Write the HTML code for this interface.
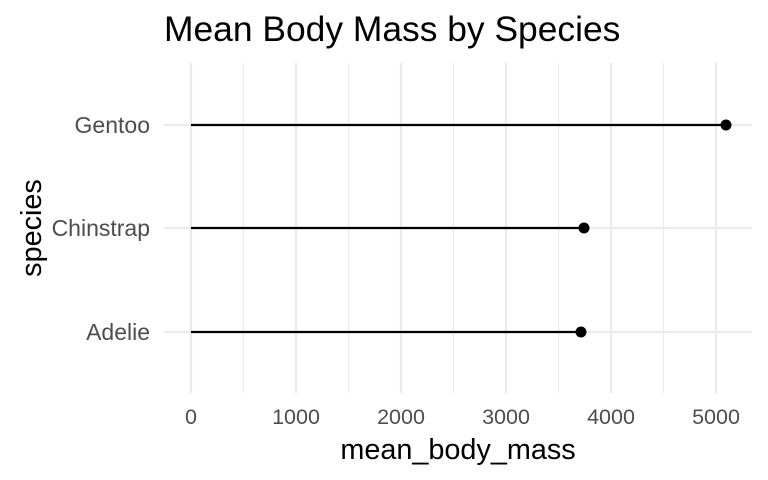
<!DOCTYPE html>
<html><head><style>body{margin:0;background:#fff}svg{display:block}</style></head><body>
<svg width="768" height="480" xmlns="http://www.w3.org/2000/svg" font-family="Liberation Sans, sans-serif">
<rect width="768" height="480" fill="#fff"/>
<g stroke="#ebebeb" stroke-width="1.1">
<line x1="243.5" y1="63" x2="243.5" y2="393"/><line x1="348.5" y1="63" x2="348.5" y2="393"/><line x1="453.5" y1="63" x2="453.5" y2="393"/><line x1="558.5" y1="63" x2="558.5" y2="393"/><line x1="663.5" y1="63" x2="663.5" y2="393"/>
</g>
<g stroke="#ebebeb" stroke-width="2.2">
<line x1="191" y1="63" x2="191" y2="393"/><line x1="296" y1="63" x2="296" y2="393"/><line x1="401" y1="63" x2="401" y2="393"/><line x1="506" y1="63" x2="506" y2="393"/><line x1="611" y1="63" x2="611" y2="393"/><line x1="716" y1="63" x2="716" y2="393"/>
<line x1="164" y1="125" x2="752" y2="125"/><line x1="164" y1="228" x2="752" y2="228"/><line x1="164" y1="332" x2="752" y2="332"/>
</g>
<g stroke="#000" stroke-width="2.2">
<line x1="191" y1="125" x2="726" y2="125"/><line x1="191" y1="228" x2="584" y2="228"/><line x1="191" y1="332" x2="581" y2="332"/>
</g>
<circle cx="726" cy="125" r="5.5"/><circle cx="584" cy="228" r="5.5"/><circle cx="581" cy="332" r="5.5"/>
<g fill="#4d4d4d" font-size="23" text-anchor="end">
<text x="150" y="133">Gentoo</text><text x="150" y="236">Chinstrap</text><text x="150" y="340">Adelie</text>
</g>
<g fill="#4d4d4d" font-size="21.5" text-anchor="middle">
<text x="191" y="424">0</text><text x="296" y="424">1000</text><text x="401" y="424">2000</text><text x="506" y="424">3000</text><text x="611" y="424">4000</text><text x="716" y="424">5000</text>
</g>
<text x="458" y="459" font-size="28.8" text-anchor="middle">mean_body_mass</text>
<text transform="translate(41,228) rotate(-90)" font-size="28.8" text-anchor="middle">species</text>
<text x="164" y="41" font-size="35.4">Mean Body Mass by Species</text>
</svg>
</body></html>
